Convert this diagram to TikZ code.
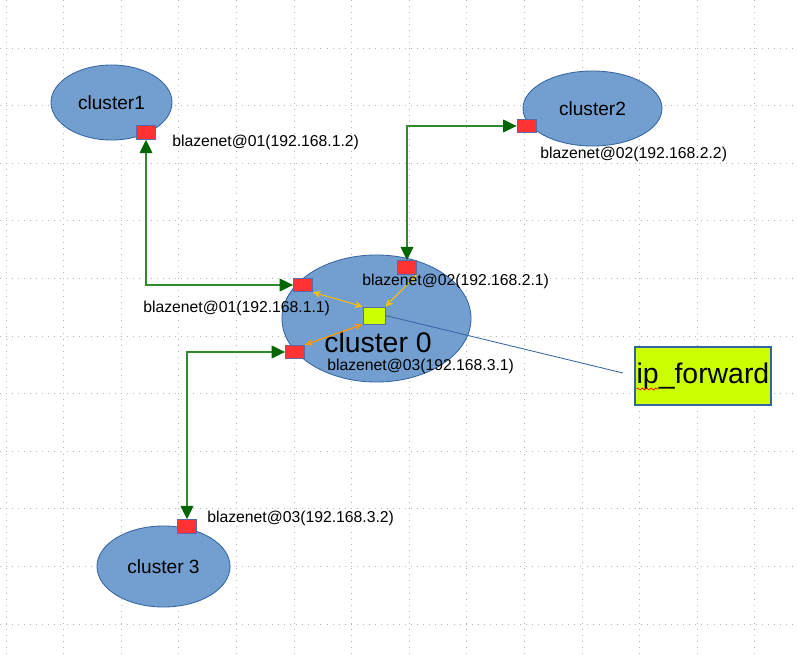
\documentclass[tikz,border=0pt]{standalone}
\usepackage{fontspec}
\setmainfont{Liberation Sans}
\usepackage{tikz}
\usetikzlibrary{arrows.meta,shapes.geometric,decorations.pathmorphing}

\definecolor{clusterblue}{HTML}{729FCF}
\definecolor{edgeblue}{HTML}{3465A4}
\definecolor{portred}{HTML}{FF3333}
\definecolor{portrim}{HTML}{5A6AA8}
\definecolor{fwdgreen}{HTML}{CCFF00}
\definecolor{linkgreen}{HTML}{2E8B2E}
\definecolor{tipgreen}{HTML}{006600}
\definecolor{amber}{HTML}{FFBF00}
\definecolor{orangeline}{HTML}{FF9900}
\definecolor{gridgray}{HTML}{B4B4B4}

\begin{document}
\begin{tikzpicture}[x=0.025cm,y=-0.025cm,inner sep=0pt]
  \tikzstyle{cluster}=[ellipse,draw=edgeblue,fill=clusterblue,line width=0.6pt,font=\fontsize{13.6}{16}\selectfont]
  \tikzstyle{port}=[rectangle,draw=portrim,fill=portred,line width=0.6pt,minimum width=0.475cm,minimum height=0.34cm]
  \tikzstyle{lbl}=[font=\fontsize{11.2}{13}\selectfont,anchor=west]
  \tikzstyle{link}=[linkgreen,line width=0.9pt,{Triangle[length=9.5pt,width=9pt,color=tipgreen]}-{Triangle[length=9.5pt,width=9pt,color=tipgreen]}]
  \tikzstyle{fwdlink}=[line width=0.7pt,{Stealth[length=5.5pt,width=5pt]}-{Stealth[length=5.5pt,width=5pt]}]
  \tikzstyle{gridline}=[gridgray,line width=0.6pt,dash pattern=on 0.7pt off 3.6pt]

  \fill[white] (0,0) rectangle (797,657);
  \useasboundingbox (0,0) rectangle (797,657);

  % dotted background grid
  \foreach \gx in {0,...,13}
    \draw[gridline] (6+57.6*\gx,0) -- (6+57.6*\gx,657);
  \foreach \gy in {0,...,10}
    \draw[gridline] (0,48+57.6*\gy) -- (797,48+57.6*\gy);

  \node[cluster,minimum width=3.025cm,minimum height=1.875cm] (c1) at (111.5,102.5) {cluster1};
  \node[cluster,minimum width=3.475cm,minimum height=1.875cm] (c2) at (592.5,108.5) {cluster2};
  \node[cluster,minimum width=4.725cm,minimum height=3.175cm] (c0) at (376.5,318.5) {};
  \node[cluster,minimum width=3.325cm,minimum height=2.025cm] (c3) at (163.5,566.5) {cluster 3};
  \node[font=\fontsize{20.2}{24}\selectfont] (c0name) at (378,342) {cluster 0};

  \node[port] (p1) at (146,132.5) {};
  \node[port] (p2) at (526.5,126) {};
  \node[port] (p3) at (187,526.5) {};
  \node[port] (q1) at (303,285) {};
  \node[port] (q2) at (407,267.5) {};
  \node[port] (q3) at (295,352) {};
  \node[draw=portrim,fill=fwdgreen,line width=0.6pt,minimum width=0.55cm,minimum height=0.425cm] (fwd) at (374,315.5) {};

  \node[draw=edgeblue,fill=fwdgreen,line width=0.8pt,minimum width=3.4cm,minimum height=1.45cm,
        font=\fontsize{20.2}{24}\selectfont] (ipbox) at (703,376) {ip\_forward};
  \draw[red,line width=0.5pt,decorate,decoration={snake,amplitude=0.7pt,segment length=3.2pt}]
    ([shift={(2,13)}]ipbox.west) -- ++(22,0);

  % links between the clusters
  \draw[link] (p1.south) |- (q1.west);
  \draw[link] (q2.north) |- (p2.west);
  \draw[link] (q3.west) -| (p3.north);

  % forwarding inside cluster 0
  \path[fwdlink]
  (q1.south east) edge[amber]                       (fwd.north west)
  (q2.south east) edge[amber]                       (fwd.north east)
  (q3.north east) edge[orangeline,line width=0.9pt] (fwd.south west);

  \coordinate (wireend) at (623,373);
  \draw[edgeblue,line width=0.6pt] (fwd.east) -- (wireend);

  \node[lbl] (l1) at (172,142) {blazenet@01(192.168.1.2)};
  \node[lbl] (l2) at (540,154) {blazenet@02(192.168.2.2)};
  \node[lbl] (l3) at (207,518) {blazenet@03(192.168.3.2)};
  \node[lbl] (m1) at (143,308) {blazenet@01(192.168.1.1)};
  \node[lbl] (m2) at (362,281) {blazenet@02(192.168.2.1)};
  \node[lbl] (m3) at (327,366) {blazenet@03(192.168.3.1)};
\end{tikzpicture}
\end{document}
